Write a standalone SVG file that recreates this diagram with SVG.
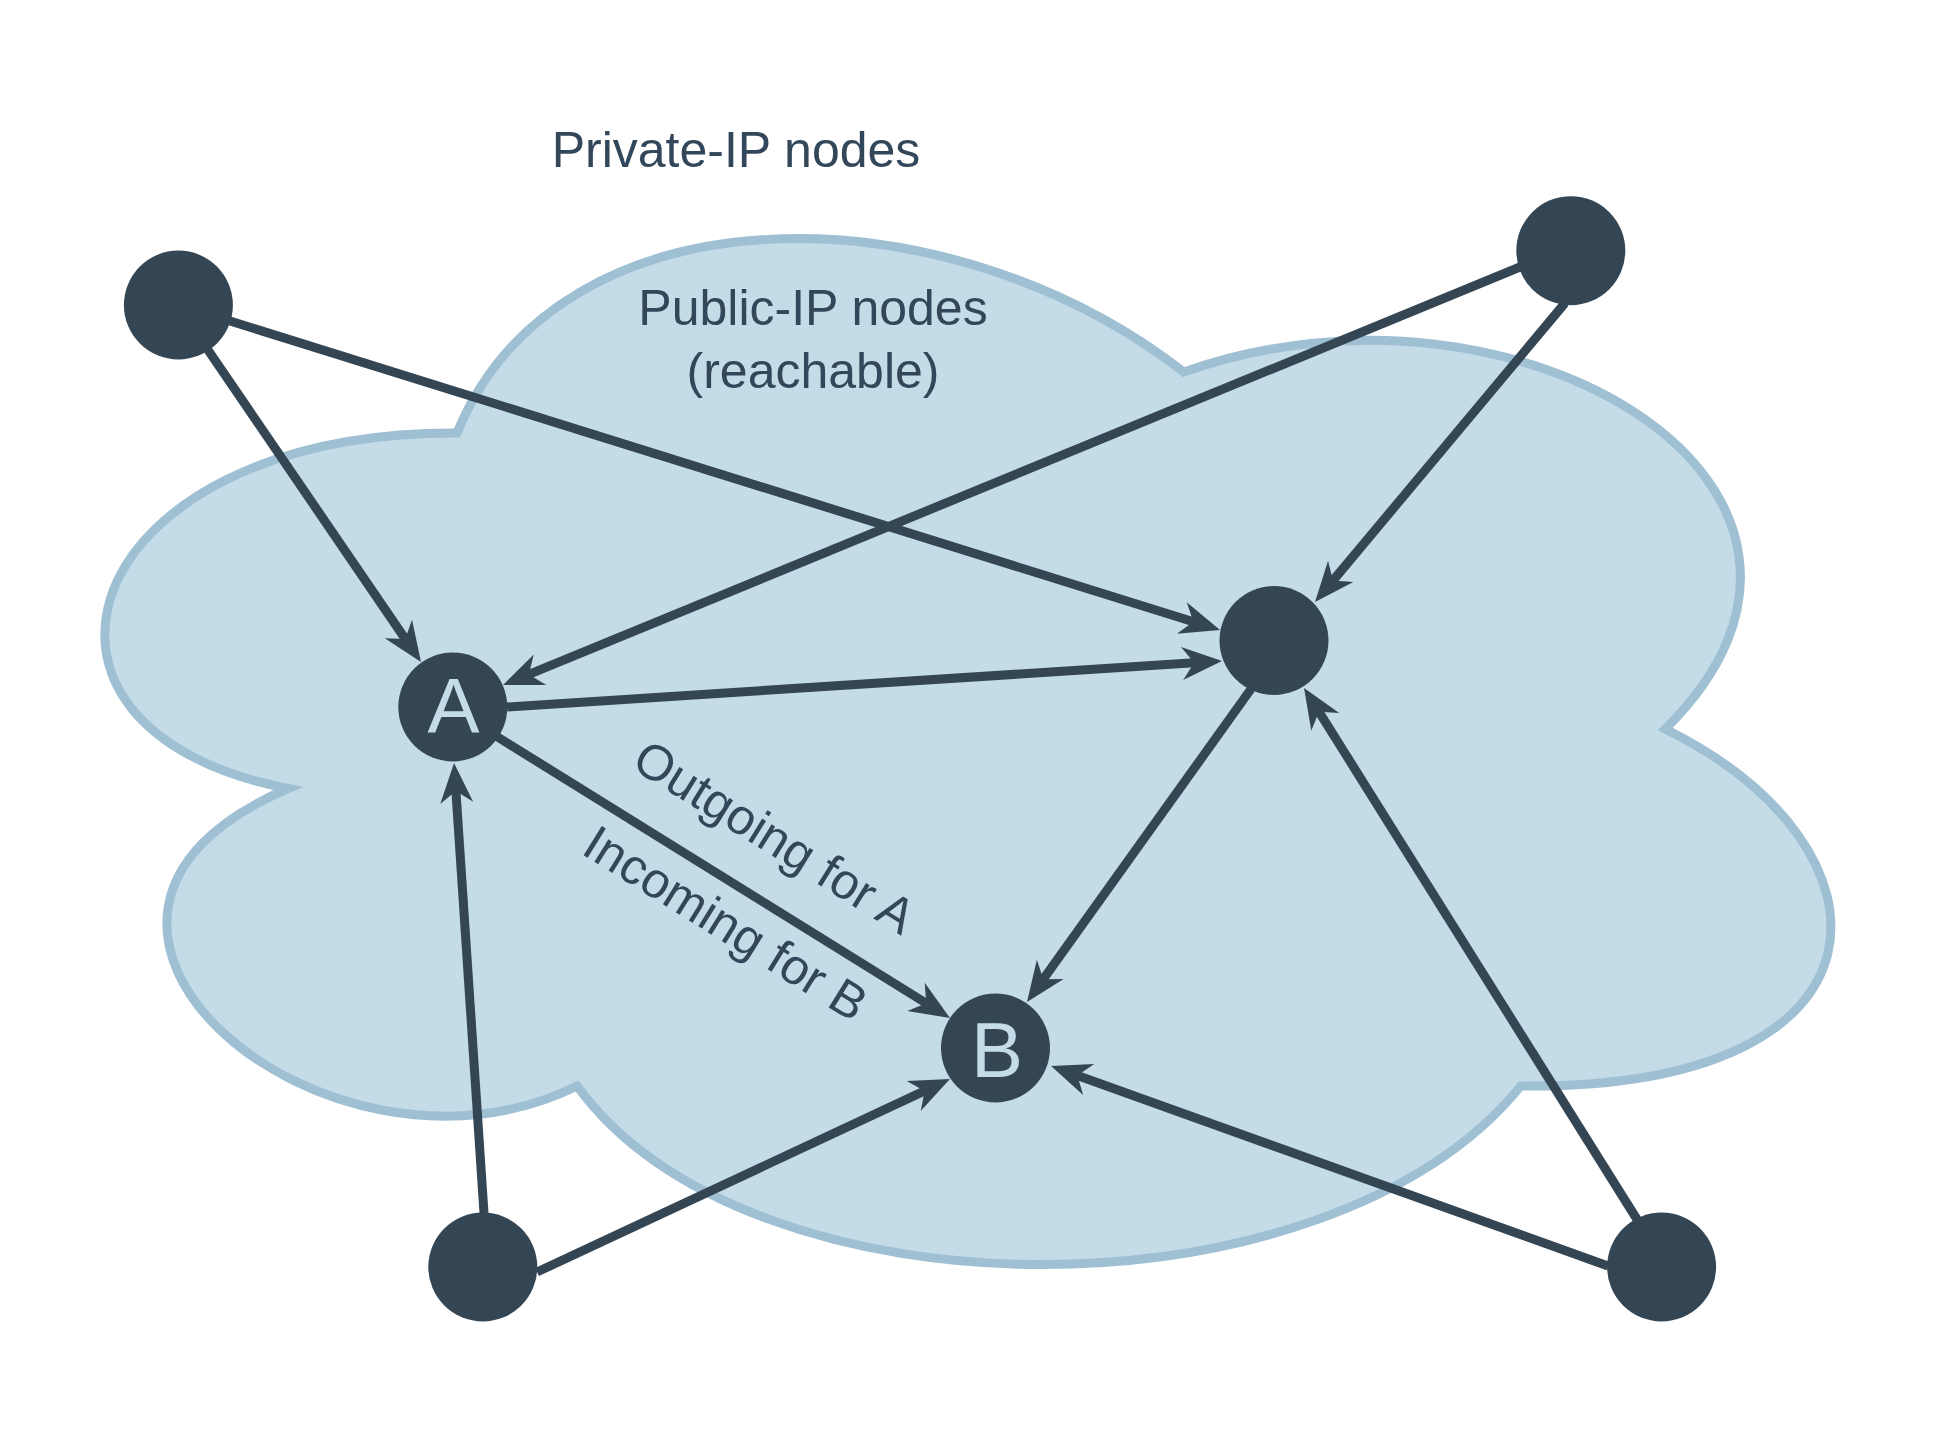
<svg xmlns="http://www.w3.org/2000/svg" width="1936" height="1440" viewBox="0 0 1936 1440">
<style>
.lbl{font-family:"Liberation Sans",Helvetica,Arial,sans-serif;font-size:50px;fill:#33475b}
.node{fill:#344554}
.letter{font-family:"Liberation Sans",Helvetica,Arial,sans-serif;font-size:78px;fill:#c4dbe8;text-anchor:middle}
.edge{fill:none;stroke:#344554;stroke-width:9;marker-end:url(#arr)}
</style>
<defs>
<marker id="arr" markerUnits="userSpaceOnUse" markerWidth="60" markerHeight="40" viewBox="-20 -20 60 40" refX="0" refY="0" orient="auto" overflow="visible">
<path d="M28,0 L-12,-16.5 L0,0 L-12,16.5 Z" fill="#344554"/>
</marker>
</defs>
<rect width="1936" height="1440" fill="#ffffff"/>
<g id="cloud">
<path d="M457,433 C76.3,431.5 -20,729 288.2,788.5 C-20,919.4 326.7,1210 577.1,1086 C750.4,1324 1328.2,1324 1520.8,1086 C1906,1090 1906,848 1665.25,729 C1906,491 1520.8,253 1183.75,372 C943,185 557.8,185 457,433 Z" fill="#c4dbe8" stroke="#9fbfd3" stroke-width="9"/>
</g>
<g id="titles">
<text class="lbl" x="736" y="167" text-anchor="middle">Private-IP nodes</text>
<text class="lbl" x="813" y="325" text-anchor="middle">Public-IP nodes</text>
<text class="lbl" x="813" y="388" text-anchor="middle">(reachable)</text>
</g>
<g id="connectors">
<path class="edge" d="M208,350 L405.2,638.9"/>
<path class="edge" d="M230,321 L1193.3,621.7"/>
<path class="edge" d="M1520,267 L528.9,674.4"/>
<path class="edge" d="M1565,303 L1333,580.5"/>
<path class="edge" d="M507,707 L1194.1,662.8"/>
<path class="edge" d="M496,736 L926.2,1003.2"/>
<path class="edge" d="M1251,689 L1043.3,979.2"/>
<path class="edge" d="M484,1213 L455.9,790.9"/>
<path class="edge" d="M537,1272 L924.6,1090.9"/>
<path class="edge" d="M1608,1266 L1077.4,1075.5"/>
<path class="edge" d="M1638,1221 L1318.9,711.7"/>
<text class="lbl" text-anchor="middle" transform="translate(765.5,851.6) rotate(31.84)">Outgoing for A</text>
<text class="lbl" text-anchor="middle" transform="translate(716.7,937.8) rotate(31.84)">Incoming for B</text>
</g>
<g id="node-tl"><circle class="node" cx="178.4" cy="305" r="54.5"/></g>
<g id="node-tr"><circle class="node" cx="1570.8" cy="250.7" r="54.5"/></g>
<g id="node-m"><circle class="node" cx="1274" cy="640.5" r="54.5"/></g>
<g id="node-a"><circle class="node" cx="452.8" cy="707" r="54.5"/><text class="letter" x="453.5" y="733">A</text></g>
<g id="node-b"><circle class="node" cx="995.5" cy="1048" r="54.5"/><text class="letter" x="997" y="1076.5">B</text></g>
<g id="node-bl"><circle class="node" cx="482.8" cy="1267" r="54.5"/></g>
<g id="node-br"><circle class="node" cx="1661.6" cy="1267" r="54.5"/></g>
</svg>
